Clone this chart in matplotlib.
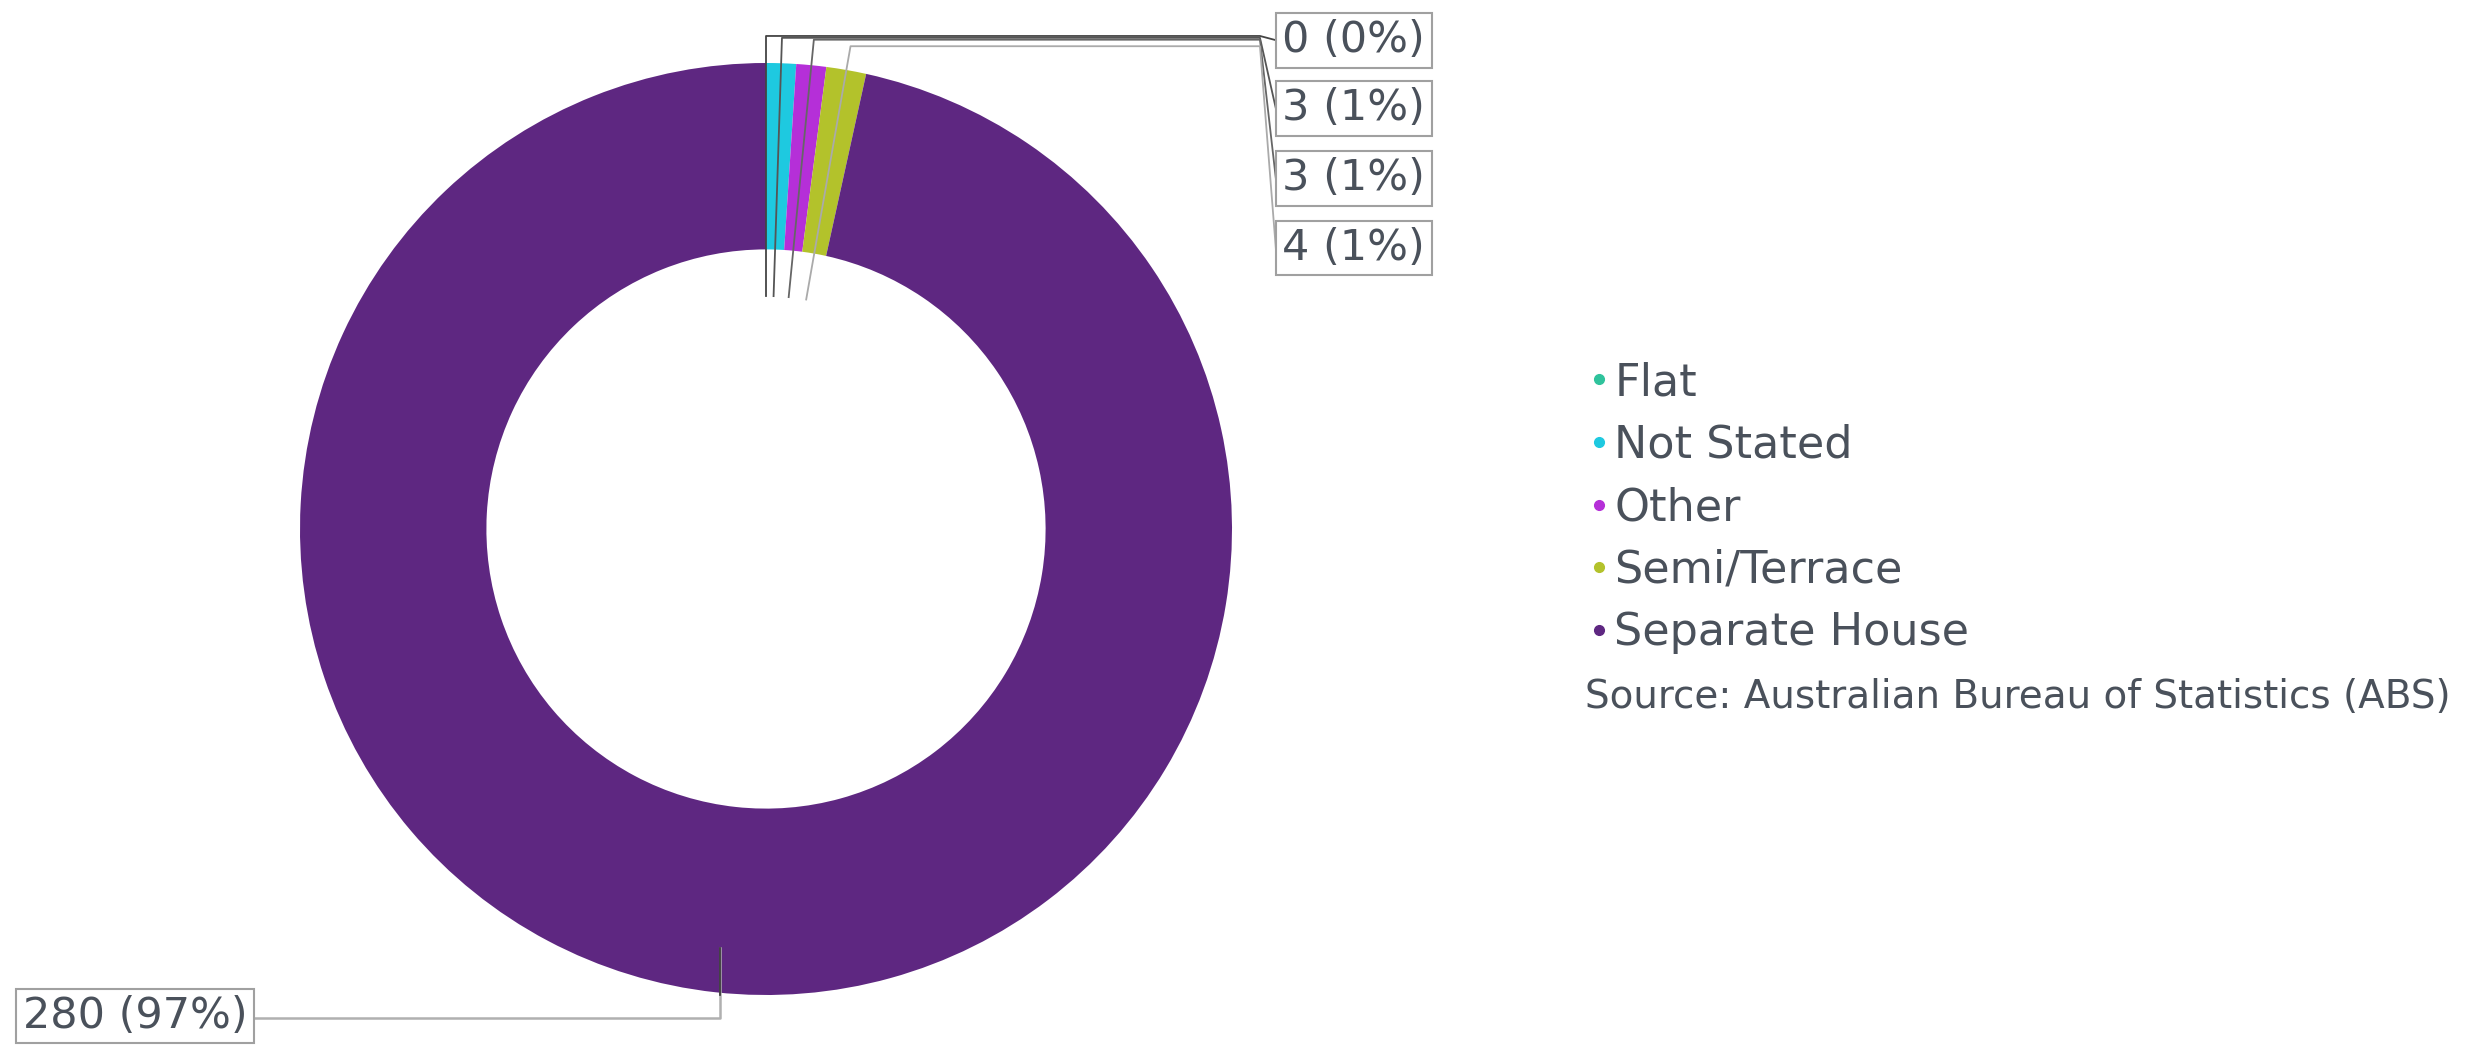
import numpy as np
import matplotlib
matplotlib.use('Agg')
import matplotlib.pyplot as plt
from matplotlib.lines import Line2D

# data
categories = ['Flat', 'Not Stated', 'Other', 'Semi/Terrace', 'Separate House']
counts = [0, 3, 3, 4, 280]
colors = ['#2fc39c', '#1ec9e0', '#b52fd8', '#b3c22b', '#5e2781']

text_col = '#4a515b'
W, H = 2485, 1050
fig = plt.figure(figsize=(W / 100, H / 100), dpi=100)

# donut axes: centre (766, 529) px, radius 466 px
cx, cy, R = 766, 529, 466
ax = fig.add_axes([(cx - R) / W, (H - cy - R) / H, 2 * R / W, 2 * R / H])
wedges, _ = ax.pie(counts, colors=colors, startangle=90, counterclock=False,
                   radius=1, wedgeprops=dict(width=0.4, edgecolor='none'))
ax.set_xlim(-1, 1)
ax.set_ylim(-1, 1)
ax.set_aspect('equal')
ax.axis('off')

total = sum(counts)
labels = [f'{c} ({round(100 * c / total)}%)' for c in counts]
box = dict(boxstyle='square,pad=0.15', fc='white', ec='#a0a0a0', lw=1.5)

# small slices: labels stacked to the right, top
label_y = [1.049, 0.903, 0.753, 0.603]
line_y = [1.058, 1.054, 1.05, 1.036]
line_c = ['#444444', '#555555', '#666666', '#aaaaaa']
for i in range(4):
    w = wedges[i]
    mid = np.deg2rad((w.theta1 + w.theta2) / 2)
    x0, y0 = 0.5 * np.cos(mid), 0.5 * np.sin(mid)
    x1 = line_y[i] / np.tan(mid)
    ax.plot([x0, x1, 1.06, 1.094], [y0, line_y[i], line_y[i], label_y[i]],
            color=line_c[i], lw=1.3, clip_on=False)
    ax.text(1.108, label_y[i], labels[i], ha='left', va='center',
            fontsize=31, color=text_col, bbox=box)

# big slice: label bottom left
w = wedges[4]
mid = np.deg2rad((w.theta1 + w.theta2) / 2)
x0, y0 = 0.905 * np.cos(mid), 0.905 * np.sin(mid)
ax.plot([x0, x0, -1.099], [y0, -1.05, -1.05], color='#b0b0b0', lw=1.8, clip_on=False)
ax.plot([x0, x0], [y0, -1.0], color='#333333', lw=1.2, clip_on=False)
ax.text(-1.113, -1.045, labels[4], ha='right', va='center',
        fontsize=31, color=text_col, bbox=box)

# legend
handles = [Line2D([], [], ls='none', marker='o', ms=7, mfc=c, mec=c) for c in colors]
leg = fig.legend(handles, categories, loc='upper left', bbox_to_anchor=(1590 / W, 1 - 361 / H),
                 frameon=False, fontsize=32, handlelength=0.4, handletextpad=0.15,
                 labelspacing=0.44, borderpad=0, borderaxespad=0)
for t in leg.get_texts():
    t.set_color(text_col)

fig.text(1585 / W, 1 - 697 / H, 'Source: Australian Bureau of Statistics (ABS)',
         ha='left', va='center', fontsize=28, color=text_col)

fig.savefig('out.png', dpi=100, facecolor='white')
